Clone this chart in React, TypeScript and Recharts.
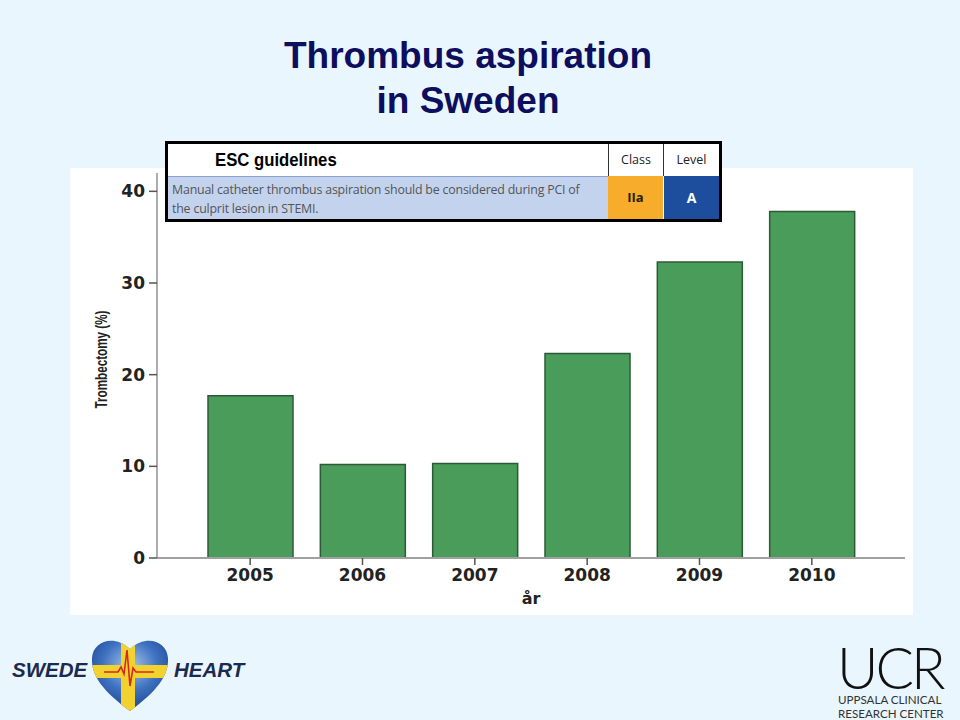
import React from 'react';
import { BarChart, Bar, XAxis, YAxis, Label } from 'recharts';

const years = ['2005', '2006', '2007', '2008', '2009', '2010'];
const trombectomy = [17.7, 10.2, 10.3, 22.3, 32.3, 37.8];
const yTicks = [0, 10, 20, 30, 40];
const yDomainMax = 42;

const titleLines = ['Thrombus aspiration', 'in Sweden'];
const escTitle = 'ESC guidelines';
const escText = ['Manual catheter thrombus aspiration should be considered during PCI of', 'the culprit lesion in STEMI.'];
const escClass = 'IIa';
const escLevel = 'A';

const data = years.map((year, i) => ({ year, value: trombectomy[i] }));

const tickFont = { fontFamily: 'DejaVu Sans', fontWeight: 700, fontSize: 17, fill: '#222' };

const YLabel = (props: any) => {
  const vb = props.viewBox || { x: 0, y: 0, width: 0, height: 0 };
  const cx = vb.x + 31;
  const cy = vb.y + vb.height / 2 - 6;
  return (
    <text
      x={cx}
      y={cy}
      transform={`rotate(-90 ${cx} ${cy})`}
      textAnchor="middle"
      dominantBaseline="central"
      textLength={98}
      lengthAdjust="spacingAndGlyphs"
      style={{ fontFamily: 'Liberation Sans, Arial, sans-serif', fontWeight: 700, fontSize: 17, fill: '#222' }}
    >
      Trombectomy (%)
    </text>
  );
};

const heartPath = 'M40 77 C 14 58, 1 42, 2 24 C 3 7, 24 0, 40 15 C 56 0, 77 7, 78 24 C 79 42, 66 58, 40 77 Z';

const Heart = () => (
  <svg width={80} height={80} viewBox="0 0 80 80" style={{ position: 'absolute', left: 90, top: 634 }}>
    <defs>
      <radialGradient id="hg" cx="50%" cy="35%" r="65%">
        <stop offset="0%" stopColor="#a9c8ec" />
        <stop offset="55%" stopColor="#3f72c0" />
        <stop offset="100%" stopColor="#1d4592" />
      </radialGradient>
      <clipPath id="hc">
        <path d={heartPath} />
      </clipPath>
    </defs>
    <path d={heartPath} fill="url(#hg)" />
    <g clipPath="url(#hc)">
      <rect x={31} y={0} width={14} height={80} fill="#f2d22e" />
      <rect x={0} y={31} width={80} height={13} fill="#f2d22e" />
    </g>
    <polyline points="14,38 28,38 31,33 34,40 37,16 40,52 43,34 46,38 64,38" fill="none" stroke="#d42a1e" strokeWidth={1.6} />
  </svg>
);

export default function App() {
  return (
    <div style={{ position: 'absolute', left: 0, top: 0, width: 960, height: 720, background: '#eaf6fd', overflow: 'hidden', fontFamily: 'Liberation Sans, Arial, sans-serif' }}>
      {/* Title */}
      <div style={{ position: 'absolute', left: 0, top: 33, width: 936, textAlign: 'center', color: '#0e0e5e', fontWeight: 700, fontSize: 37, lineHeight: '45px' }}>
        {titleLines.map((l) => (
          <div key={l}>{l}</div>
        ))}
      </div>

      {/* Chart panel */}
      <div style={{ position: 'absolute', left: 70, top: 168, width: 843, height: 447, background: '#ffffff' }}>
        <BarChart width={843} height={447} data={data} margin={{ top: 5, right: 8, left: 0, bottom: 0 }} barSize={85}>
          <XAxis
            dataKey="year"
            height={57}
            padding={{ left: 37, right: 37 }}
            axisLine={{ stroke: '#a0a0a0', strokeWidth: 2 }}
            tickLine={{ stroke: '#555', strokeWidth: 1.5 }}
            tickSize={7}
            tickMargin={4}
            tick={tickFont}
          >
            <Label value="år" position="insideBottom" offset={11} style={{ fontFamily: 'DejaVu Sans', fontWeight: 700, fontSize: 16, fill: '#222' }} />
          </XAxis>
          <YAxis
            width={87}
            domain={[0, yDomainMax]}
            ticks={yTicks}
            interval={0}
            axisLine={{ stroke: '#909090', strokeWidth: 1.5 }}
            tickLine={{ stroke: '#555', strokeWidth: 1.5 }}
            tickSize={8}
            tickMargin={4}
            tick={tickFont}
          >
            <Label content={YLabel} />
          </YAxis>
          <Bar dataKey="value" fill="#4a9c5a" stroke="#2c5a36" strokeWidth={1.5} isAnimationActive={false} />
        </BarChart>
      </div>

      {/* ESC guidelines box */}
      <div style={{ position: 'absolute', left: 165, top: 141, width: 557, height: 81, border: '3px solid #000', boxSizing: 'border-box', background: '#fff' }}>
        <div style={{ position: 'absolute', left: 0, top: 0, width: 440, height: 32, background: '#fff' }}>
          <div style={{ position: 'absolute', left: 47, top: 5, fontFamily: 'Liberation Sans, Arial, sans-serif', fontWeight: 700, fontSize: 19, color: '#000', transform: 'scaleX(0.88)', transformOrigin: 'left center', whiteSpace: 'nowrap' }}>{escTitle}</div>
        </div>
        <div style={{ position: 'absolute', left: 440, top: 0, width: 55, height: 32, borderLeft: '1px solid #333', boxSizing: 'border-box', textAlign: 'center', lineHeight: '32px', fontFamily: 'Open Sans, sans-serif', fontSize: 12.5, color: '#222' }}>Class</div>
        <div style={{ position: 'absolute', left: 495, top: 0, width: 56, height: 32, borderLeft: '1px solid #333', boxSizing: 'border-box', textAlign: 'center', lineHeight: '32px', fontFamily: 'Open Sans, sans-serif', fontSize: 12.5, color: '#222' }}>Level</div>
        <div style={{ position: 'absolute', left: 0, top: 32, width: 440, height: 43, background: '#c3d3ee', borderTop: '1px solid #8aa0c8', boxSizing: 'border-box' }}>
          <div style={{ position: 'absolute', left: 4, top: 3, fontFamily: 'Open Sans, sans-serif', fontSize: 12.4, lineHeight: '19px', color: '#555', letterSpacing: -0.2 }}>
            {escText.map((t) => (
              <div key={t} style={{ whiteSpace: 'nowrap' }}>{t}</div>
            ))}
          </div>
        </div>
        <div style={{ position: 'absolute', left: 440, top: 32, width: 55, height: 43, background: '#f7ad2b', textAlign: 'center', lineHeight: '43px', fontFamily: 'Open Sans, sans-serif', fontWeight: 700, fontSize: 13, color: '#2a1c00' }}>{escClass}</div>
        <div style={{ position: 'absolute', left: 496, top: 32, width: 55, height: 43, background: '#1d4e9e', textAlign: 'center', lineHeight: '43px', fontFamily: 'Open Sans, sans-serif', fontWeight: 700, fontSize: 14, color: '#fff' }}>{escLevel}</div>
      </div>

      {/* SWEDEHEART logo */}
      <div style={{ position: 'absolute', left: 12, top: 658, fontFamily: 'Liberation Sans, Arial, sans-serif', fontWeight: 700, fontStyle: 'italic', fontSize: 20.5, color: '#1b2a4e' }}>SWEDE</div>
      <Heart />
      <div style={{ position: 'absolute', left: 174, top: 658, fontFamily: 'Liberation Sans, Arial, sans-serif', fontWeight: 700, fontStyle: 'italic', fontSize: 20.5, color: '#1b2a4e' }}>HEART</div>

      {/* UCR logo */}
      <div style={{ position: 'absolute', left: 837, top: 646, fontFamily: 'Lato, sans-serif', fontWeight: 300, fontSize: 57, lineHeight: '43px', height: 43, color: '#111', letterSpacing: -3 }}>UCR</div>
      <div style={{ position: 'absolute', left: 838, top: 693, fontFamily: 'Lato, sans-serif', fontSize: 11.6, lineHeight: '14px', color: '#333', whiteSpace: 'nowrap' }}>
        <div>UPPSALA CLINICAL</div>
        <div>RESEARCH CENTER</div>
      </div>
    </div>
  );
}
